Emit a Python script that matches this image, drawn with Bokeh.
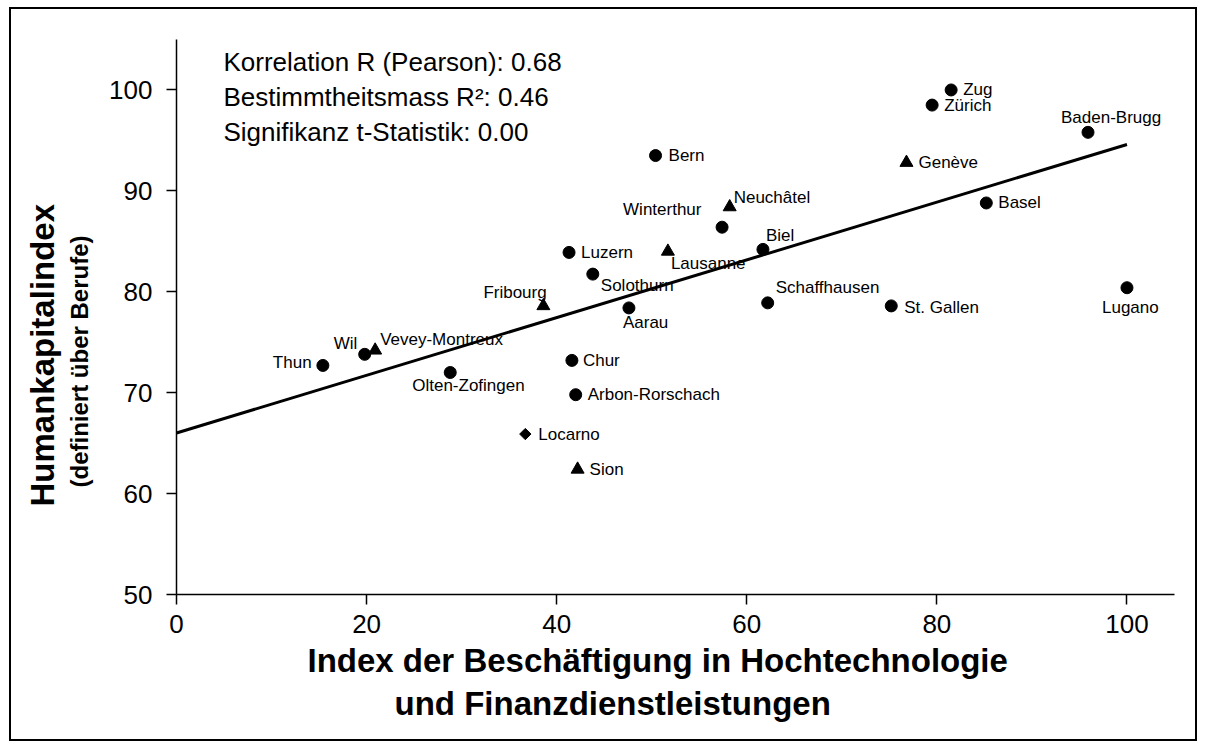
import math
from bokeh.plotting import figure
from bokeh.models import ColumnDataSource, Label, FixedTicker, Range1d, Title
from bokeh.core.properties import value
from bokeh.embed import file_html
from bokeh.resources import INLINE

# ---------------- data ----------------
cities = ["Thun", "Wil", "Vevey-Montreux", "Olten-Zofingen", "Locarno", "Fribourg",
          "Luzern", "Chur", "Arbon-Rorschach", "Sion", "Solothurn", "Aarau", "Bern",
          "Lausanne", "Winterthur", "Neuchâtel", "Biel", "Schaffhausen", "St. Gallen",
          "Genève", "Zürich", "Zug", "Basel", "Baden-Brugg", "Lugano"]
tech_index = [15.4, 19.8, 20.9, 28.8, 36.7, 38.6,
              41.3, 41.6, 42.0, 42.2, 43.8, 47.6, 50.4,
              51.7, 57.4, 58.2, 61.7, 62.2, 75.2,
              76.8, 79.5, 81.5, 85.2, 95.9, 100.0]
human_index = [72.7, 73.8, 74.2, 72.0, 65.9, 78.6,
               83.9, 73.2, 69.8, 62.4, 81.75, 78.4, 93.5,
               84.0, 86.4, 88.4, 84.2, 78.9, 78.6,
               92.8, 98.5, 100.0, 88.8, 95.8, 80.4]
region_type = ["c", "c", "t", "c", "d", "t",
               "c", "c", "c", "t", "c", "c", "c",
               "t", "c", "t", "c", "c", "c",
               "t", "c", "c", "c", "c", "c"]
trend_x = [0, 100]
trend_y = [66.0, 94.6]
x_ticks = [0, 20, 40, 60, 80, 100]
y_ticks = [50, 60, 70, 80, 90, 100]
stats_lines = ["Korrelation R (Pearson): 0.68",
               "Bestimmtheitsmass R\u00b2: 0.46",
               "Signifikanz t-Statistik: 0.00"]
x_title = ["Index der Beschäftigung in Hochtechnologie", "und Finanzdienstleistungen"]
y_title = "Humankapitalindex"
y_subtitle = "(definiert über Berufe)"

# label placement (screen px, relative to marker centre) -- layout only
label_dx = [-50, -31, 5, -38, 13, -60,
            12, 11, 12, 12, 8, -6, 13,
            3, -99, 4, 3, 8, 13,
            12, 12, 12, 12, -27, -25]
label_dy = [-3, -11, -11, 13, 0, -13,
            0, 0, 0, 0, 11, 15, 0,
            12, -18, -10, -14, -15, 2,
            0, 0, 0, 0, -15, 20]

FONT = "Liberation Sans"

p = figure(width=1188, height=734, output_backend="svg", toolbar_location=None,
           x_range=Range1d(0, 105), y_range=Range1d(50, 105),
           min_border_left=165, min_border_right=25, min_border_top=30, min_border_bottom=149)
p.styles = {"border": "2px solid black", "margin-left": "9px", "margin-top": "7px",
            "background-color": "white"}
p.outline_line_color = None
p.xgrid.grid_line_color = None
p.ygrid.grid_line_color = None
p.background_fill_color = "white"
p.border_fill_color = "white"

for ax in (p.xaxis[0], p.yaxis[0]):
    ax.axis_line_color = "black"
    ax.axis_line_width = 1.5
    ax.major_tick_line_color = "black"
    ax.major_tick_line_width = 1.5
    ax.major_tick_in = 0
    ax.major_tick_out = 10
    ax.minor_tick_line_color = None
    ax.major_label_text_font = FONT
    ax.major_label_text_font_size = "26px"
    ax.major_label_text_color = "black"
p.xaxis[0].ticker = FixedTicker(ticks=x_ticks)
p.yaxis[0].ticker = FixedTicker(ticks=y_ticks)
p.xaxis[0].major_label_standoff = 10
p.yaxis[0].major_label_standoff = 14
# spacer between y tick labels and the vertical titles
p.yaxis[0].axis_label = " "
p.yaxis[0].axis_label_text_font_size = "1px"
p.yaxis[0].axis_label_standoff = 10


def side_title(text, size, offset, standoff):
    return Title(text=text, align="left", offset=offset, standoff=standoff,
                 text_font=FONT, text_font_size=size, text_font_style="bold",
                 text_color="black")


# axis titles (offset = distance from frame left / frame bottom)
p.add_layout(side_title(x_title[0], "33px", 131, 8), "below")
p.add_layout(side_title(x_title[1], "33px", 218, 0), "below")
p.add_layout(side_title(y_subtitle, "24px", 107, 0), "left")
p.add_layout(side_title(y_title, "33px", 88, 6), "left")

# regression line
p.line(trend_x, trend_y, line_color="black", line_width=3)

# markers by type
marker_of = {"c": "circle", "t": "triangle"}
size_of = {"c": 12, "t": 13}
for k in ("c", "t", "d"):
    idx = [i for i, t in enumerate(region_type) if t == k]
    src = ColumnDataSource(dict(x=[tech_index[i] for i in idx], y=[human_index[i] for i in idx]))
    if k == "d":
        p.scatter("x", "y", source=src, marker="square", angle=math.pi / 4, size=8,
                  fill_color="black", line_color="black")
    else:
        p.scatter("x", "y", source=src, marker=marker_of[k], size=size_of[k],
                  fill_color="black", line_color="black")

# city labels
lab_src = ColumnDataSource(dict(x=tech_index, y=human_index, text=cities,
                                dx=label_dx, dy=label_dy))
p.text("x", "y", text="text", source=lab_src, x_offset="dx", y_offset="dy",
       text_font=value(FONT), text_font_size="17px", text_color="black",
       text_align="left", text_baseline="middle")

# statistics text (screen units from frame left/bottom)
for i, s in enumerate(stats_lines):
    p.add_layout(Label(x=47, y=532.5 - 35 * i, x_units="screen", y_units="screen", text=s,
                       text_font=FONT, text_font_size="26px", text_color="black",
                       text_align="left", text_baseline="middle"))

open("out.html", "w").write(file_html(p, INLINE))
